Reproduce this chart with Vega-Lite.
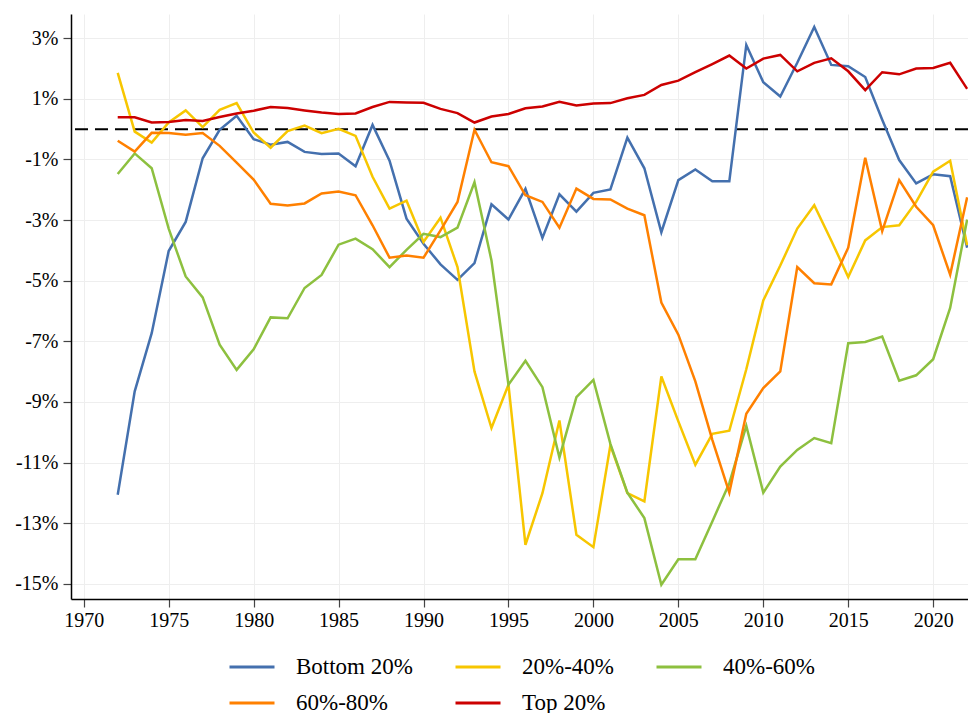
{
  "$schema": "https://vega.github.io/schema/vega-lite/v6.json",
  "width": 897,
  "height": 585,
  "autosize": {"type": "none"},
  "padding": {"left": 71, "top": 14, "right": 0, "bottom": 114},
  "background": "white",
  "config": {
    "view": {"stroke": null},
    "font": "Liberation Serif"
  },
  "layer": [
    {
      "data": {"values": [{"zero": 0}]},
      "mark": {"type": "rule", "color": "black", "strokeWidth": 2, "strokeDash": [13, 7]},
      "encoding": {"y": {"field": "zero", "type": "quantitative", "scale": {"domain": [-15.5, 3.8], "nice": false, "zero": false}}}
    },
    {
      "data": {"values": [
        {"year":1972,"group":"Bottom 20%","value":-12.06},{"year":1973,"group":"Bottom 20%","value":-8.65},{"year":1974,"group":"Bottom 20%","value":-6.73},{"year":1975,"group":"Bottom 20%","value":-4.02},{"year":1976,"group":"Bottom 20%","value":-3.06},{"year":1977,"group":"Bottom 20%","value":-0.96},{"year":1978,"group":"Bottom 20%","value":-0.02},{"year":1979,"group":"Bottom 20%","value":0.44},{"year":1980,"group":"Bottom 20%","value":-0.33},{"year":1981,"group":"Bottom 20%","value":-0.51},{"year":1982,"group":"Bottom 20%","value":-0.42},{"year":1983,"group":"Bottom 20%","value":-0.75},{"year":1984,"group":"Bottom 20%","value":-0.82},{"year":1985,"group":"Bottom 20%","value":-0.80},{"year":1986,"group":"Bottom 20%","value":-1.22},{"year":1987,"group":"Bottom 20%","value":0.14},{"year":1988,"group":"Bottom 20%","value":-1.04},{"year":1989,"group":"Bottom 20%","value":-2.95},{"year":1990,"group":"Bottom 20%","value":-3.78},{"year":1991,"group":"Bottom 20%","value":-4.46},{"year":1992,"group":"Bottom 20%","value":-4.97},{"year":1993,"group":"Bottom 20%","value":-4.42},{"year":1994,"group":"Bottom 20%","value":-2.48},{"year":1995,"group":"Bottom 20%","value":-2.98},{"year":1996,"group":"Bottom 20%","value":-1.97},{"year":1997,"group":"Bottom 20%","value":-3.59},{"year":1998,"group":"Bottom 20%","value":-2.15},{"year":1999,"group":"Bottom 20%","value":-2.72},{"year":2000,"group":"Bottom 20%","value":-2.10},{"year":2001,"group":"Bottom 20%","value":-1.99},{"year":2002,"group":"Bottom 20%","value":-0.28},{"year":2003,"group":"Bottom 20%","value":-1.29},{"year":2004,"group":"Bottom 20%","value":-3.40},{"year":2005,"group":"Bottom 20%","value":-1.68},{"year":2006,"group":"Bottom 20%","value":-1.33},{"year":2007,"group":"Bottom 20%","value":-1.72},{"year":2008,"group":"Bottom 20%","value":-1.72},{"year":2009,"group":"Bottom 20%","value":2.78},{"year":2010,"group":"Bottom 20%","value":1.55},{"year":2011,"group":"Bottom 20%","value":1.08},{"year":2012,"group":"Bottom 20%","value":2.19},{"year":2013,"group":"Bottom 20%","value":3.37},{"year":2014,"group":"Bottom 20%","value":2.12},{"year":2015,"group":"Bottom 20%","value":2.08},{"year":2016,"group":"Bottom 20%","value":1.72},{"year":2017,"group":"Bottom 20%","value":0.31},{"year":2018,"group":"Bottom 20%","value":-1.02},{"year":2019,"group":"Bottom 20%","value":-1.79},{"year":2020,"group":"Bottom 20%","value":-1.49},{"year":2021,"group":"Bottom 20%","value":-1.55},{"year":2022,"group":"Bottom 20%","value":-3.91},
        {"year":1972,"group":"20%-40%","value":1.86},{"year":1973,"group":"20%-40%","value":-0.08},{"year":1974,"group":"20%-40%","value":-0.44},{"year":1975,"group":"20%-40%","value":0.22},{"year":1976,"group":"20%-40%","value":0.62},{"year":1977,"group":"20%-40%","value":0.07},{"year":1978,"group":"20%-40%","value":0.64},{"year":1979,"group":"20%-40%","value":0.86},{"year":1980,"group":"20%-40%","value":-0.11},{"year":1981,"group":"20%-40%","value":-0.61},{"year":1982,"group":"20%-40%","value":-0.06},{"year":1983,"group":"20%-40%","value":0.12},{"year":1984,"group":"20%-40%","value":-0.13},{"year":1985,"group":"20%-40%","value":0.01},{"year":1986,"group":"20%-40%","value":-0.22},{"year":1987,"group":"20%-40%","value":-1.57},{"year":1988,"group":"20%-40%","value":-2.62},{"year":1989,"group":"20%-40%","value":-2.36},{"year":1990,"group":"20%-40%","value":-3.72},{"year":1991,"group":"20%-40%","value":-2.92},{"year":1992,"group":"20%-40%","value":-4.55},{"year":1993,"group":"20%-40%","value":-7.99},{"year":1994,"group":"20%-40%","value":-9.86},{"year":1995,"group":"20%-40%","value":-8.43},{"year":1996,"group":"20%-40%","value":-13.71},{"year":1997,"group":"20%-40%","value":-12.01},{"year":1998,"group":"20%-40%","value":-9.61},{"year":1999,"group":"20%-40%","value":-13.38},{"year":2000,"group":"20%-40%","value":-13.79},{"year":2001,"group":"20%-40%","value":-10.43},{"year":2002,"group":"20%-40%","value":-12.01},{"year":2003,"group":"20%-40%","value":-12.28},{"year":2004,"group":"20%-40%","value":-8.16},{"year":2005,"group":"20%-40%","value":-9.64},{"year":2006,"group":"20%-40%","value":-11.07},{"year":2007,"group":"20%-40%","value":-10.05},{"year":2008,"group":"20%-40%","value":-9.95},{"year":2009,"group":"20%-40%","value":-7.92},{"year":2010,"group":"20%-40%","value":-5.65},{"year":2011,"group":"20%-40%","value":-4.50},{"year":2012,"group":"20%-40%","value":-3.28},{"year":2013,"group":"20%-40%","value":-2.51},{"year":2014,"group":"20%-40%","value":-3.67},{"year":2015,"group":"20%-40%","value":-4.88},{"year":2016,"group":"20%-40%","value":-3.67},{"year":2017,"group":"20%-40%","value":-3.23},{"year":2018,"group":"20%-40%","value":-3.17},{"year":2019,"group":"20%-40%","value":-2.40},{"year":2020,"group":"20%-40%","value":-1.40},{"year":2021,"group":"20%-40%","value":-1.04},{"year":2022,"group":"20%-40%","value":-3.83},
        {"year":1972,"group":"40%-60%","value":-1.48},{"year":1973,"group":"40%-60%","value":-0.80},{"year":1974,"group":"40%-60%","value":-1.29},{"year":1975,"group":"40%-60%","value":-3.28},{"year":1976,"group":"40%-60%","value":-4.86},{"year":1977,"group":"40%-60%","value":-5.55},{"year":1978,"group":"40%-60%","value":-7.11},{"year":1979,"group":"40%-60%","value":-7.94},{"year":1980,"group":"40%-60%","value":-7.26},{"year":1981,"group":"40%-60%","value":-6.21},{"year":1982,"group":"40%-60%","value":-6.24},{"year":1983,"group":"40%-60%","value":-5.24},{"year":1984,"group":"40%-60%","value":-4.81},{"year":1985,"group":"40%-60%","value":-3.81},{"year":1986,"group":"40%-60%","value":-3.61},{"year":1987,"group":"40%-60%","value":-3.96},{"year":1988,"group":"40%-60%","value":-4.55},{"year":1989,"group":"40%-60%","value":-3.98},{"year":1990,"group":"40%-60%","value":-3.45},{"year":1991,"group":"40%-60%","value":-3.56},{"year":1992,"group":"40%-60%","value":-3.25},{"year":1993,"group":"40%-60%","value":-1.75},{"year":1994,"group":"40%-60%","value":-4.33},{"year":1995,"group":"40%-60%","value":-8.43},{"year":1996,"group":"40%-60%","value":-7.64},{"year":1997,"group":"40%-60%","value":-8.51},{"year":1998,"group":"40%-60%","value":-10.83},{"year":1999,"group":"40%-60%","value":-8.84},{"year":2000,"group":"40%-60%","value":-8.27},{"year":2001,"group":"40%-60%","value":-10.38},{"year":2002,"group":"40%-60%","value":-11.99},{"year":2003,"group":"40%-60%","value":-12.83},{"year":2004,"group":"40%-60%","value":-15.03},{"year":2005,"group":"40%-60%","value":-14.19},{"year":2006,"group":"40%-60%","value":-14.19},{"year":2007,"group":"40%-60%","value":-12.94},{"year":2008,"group":"40%-60%","value":-11.68},{"year":2009,"group":"40%-60%","value":-9.79},{"year":2010,"group":"40%-60%","value":-11.99},{"year":2011,"group":"40%-60%","value":-11.13},{"year":2012,"group":"40%-60%","value":-10.58},{"year":2013,"group":"40%-60%","value":-10.19},{"year":2014,"group":"40%-60%","value":-10.36},{"year":2015,"group":"40%-60%","value":-7.06},{"year":2016,"group":"40%-60%","value":-7.02},{"year":2017,"group":"40%-60%","value":-6.84},{"year":2018,"group":"40%-60%","value":-8.30},{"year":2019,"group":"40%-60%","value":-8.12},{"year":2020,"group":"40%-60%","value":-7.59},{"year":2021,"group":"40%-60%","value":-5.90},{"year":2022,"group":"40%-60%","value":-2.98},
        {"year":1972,"group":"60%-80%","value":-0.38},{"year":1973,"group":"60%-80%","value":-0.74},{"year":1974,"group":"60%-80%","value":-0.12},{"year":1975,"group":"60%-80%","value":-0.13},{"year":1976,"group":"60%-80%","value":-0.18},{"year":1977,"group":"60%-80%","value":-0.13},{"year":1978,"group":"60%-80%","value":-0.55},{"year":1979,"group":"60%-80%","value":-1.10},{"year":1980,"group":"60%-80%","value":-1.66},{"year":1981,"group":"60%-80%","value":-2.46},{"year":1982,"group":"60%-80%","value":-2.52},{"year":1983,"group":"60%-80%","value":-2.45},{"year":1984,"group":"60%-80%","value":-2.12},{"year":1985,"group":"60%-80%","value":-2.06},{"year":1986,"group":"60%-80%","value":-2.18},{"year":1987,"group":"60%-80%","value":-3.17},{"year":1988,"group":"60%-80%","value":-4.24},{"year":1989,"group":"60%-80%","value":-4.17},{"year":1990,"group":"60%-80%","value":-4.24},{"year":1991,"group":"60%-80%","value":-3.34},{"year":1992,"group":"60%-80%","value":-2.40},{"year":1993,"group":"60%-80%","value":-0.02},{"year":1994,"group":"60%-80%","value":-1.09},{"year":1995,"group":"60%-80%","value":-1.22},{"year":1996,"group":"60%-80%","value":-2.18},{"year":1997,"group":"60%-80%","value":-2.40},{"year":1998,"group":"60%-80%","value":-3.25},{"year":1999,"group":"60%-80%","value":-1.96},{"year":2000,"group":"60%-80%","value":-2.30},{"year":2001,"group":"60%-80%","value":-2.32},{"year":2002,"group":"60%-80%","value":-2.62},{"year":2003,"group":"60%-80%","value":-2.84},{"year":2004,"group":"60%-80%","value":-5.72},{"year":2005,"group":"60%-80%","value":-6.78},{"year":2006,"group":"60%-80%","value":-8.32},{"year":2007,"group":"60%-80%","value":-10.25},{"year":2008,"group":"60%-80%","value":-11.99},{"year":2009,"group":"60%-80%","value":-9.39},{"year":2010,"group":"60%-80%","value":-8.54},{"year":2011,"group":"60%-80%","value":-7.99},{"year":2012,"group":"60%-80%","value":-4.55},{"year":2013,"group":"60%-80%","value":-5.08},{"year":2014,"group":"60%-80%","value":-5.12},{"year":2015,"group":"60%-80%","value":-3.91},{"year":2016,"group":"60%-80%","value":-0.94},{"year":2017,"group":"60%-80%","value":-3.36},{"year":2018,"group":"60%-80%","value":-1.68},{"year":2019,"group":"60%-80%","value":-2.56},{"year":2020,"group":"60%-80%","value":-3.17},{"year":2021,"group":"60%-80%","value":-4.80},{"year":2022,"group":"60%-80%","value":-2.25},
        {"year":1972,"group":"Top 20%","value":0.39},{"year":1973,"group":"Top 20%","value":0.39},{"year":1974,"group":"Top 20%","value":0.22},{"year":1975,"group":"Top 20%","value":0.24},{"year":1976,"group":"Top 20%","value":0.30},{"year":1977,"group":"Top 20%","value":0.27},{"year":1978,"group":"Top 20%","value":0.40},{"year":1979,"group":"Top 20%","value":0.52},{"year":1980,"group":"Top 20%","value":0.61},{"year":1981,"group":"Top 20%","value":0.73},{"year":1982,"group":"Top 20%","value":0.70},{"year":1983,"group":"Top 20%","value":0.62},{"year":1984,"group":"Top 20%","value":0.55},{"year":1985,"group":"Top 20%","value":0.50},{"year":1986,"group":"Top 20%","value":0.52},{"year":1987,"group":"Top 20%","value":0.73},{"year":1988,"group":"Top 20%","value":0.90},{"year":1989,"group":"Top 20%","value":0.88},{"year":1990,"group":"Top 20%","value":0.87},{"year":1991,"group":"Top 20%","value":0.67},{"year":1992,"group":"Top 20%","value":0.53},{"year":1993,"group":"Top 20%","value":0.22},{"year":1994,"group":"Top 20%","value":0.42},{"year":1995,"group":"Top 20%","value":0.50},{"year":1996,"group":"Top 20%","value":0.69},{"year":1997,"group":"Top 20%","value":0.75},{"year":1998,"group":"Top 20%","value":0.90},{"year":1999,"group":"Top 20%","value":0.78},{"year":2000,"group":"Top 20%","value":0.85},{"year":2001,"group":"Top 20%","value":0.86},{"year":2002,"group":"Top 20%","value":1.02},{"year":2003,"group":"Top 20%","value":1.13},{"year":2004,"group":"Top 20%","value":1.46},{"year":2005,"group":"Top 20%","value":1.60},{"year":2006,"group":"Top 20%","value":1.88},{"year":2007,"group":"Top 20%","value":2.15},{"year":2008,"group":"Top 20%","value":2.43},{"year":2009,"group":"Top 20%","value":2.00},{"year":2010,"group":"Top 20%","value":2.33},{"year":2011,"group":"Top 20%","value":2.45},{"year":2012,"group":"Top 20%","value":1.91},{"year":2013,"group":"Top 20%","value":2.19},{"year":2014,"group":"Top 20%","value":2.34},{"year":2015,"group":"Top 20%","value":1.91},{"year":2016,"group":"Top 20%","value":1.29},{"year":2017,"group":"Top 20%","value":1.88},{"year":2018,"group":"Top 20%","value":1.81},{"year":2019,"group":"Top 20%","value":2.00},{"year":2020,"group":"Top 20%","value":2.02},{"year":2021,"group":"Top 20%","value":2.19},{"year":2022,"group":"Top 20%","value":1.33}
      ]},
      "mark": {"type": "line", "strokeWidth": 2.5, "clip": true},
      "encoding": {
        "x": {
          "field": "year", "type": "quantitative",
          "scale": {"domain": [1969.25, 2022.05], "nice": false, "zero": false},
          "axis": {
            "title": null, "values": [1970, 1975, 1980, 1985, 1990, 1995, 2000, 2005, 2010, 2015, 2020],
            "format": "d", "labelFont": "Liberation Serif", "labelFontSize": 20, "labelColor": "black",
            "tickColor": "#444444", "tickSize": 8, "tickWidth": 1.2, "domainColor": "black", "domainWidth": 1.5,
            "grid": true, "gridColor": "#eeeeee", "gridWidth": 1, "labelPadding": 3
          }
        },
        "y": {
          "field": "value", "type": "quantitative",
          "scale": {"domain": [-15.5, 3.8], "nice": false, "zero": false},
          "axis": {
            "title": null, "values": [-15, -13, -11, -9, -7, -5, -3, -1, 1, 3],
            "labelExpr": "datum.value + '%'", "labelFont": "Liberation Serif", "labelFontSize": 20, "labelColor": "black",
            "tickColor": "#444444", "tickSize": 8, "tickWidth": 1.2, "domainColor": "black", "domainWidth": 1.5,
            "grid": true, "gridColor": "#eeeeee", "gridWidth": 1, "labelPadding": 5
          }
        },
        "color": {
          "field": "group", "type": "nominal",
          "scale": {
            "domain": ["Bottom 20%", "20%-40%", "40%-60%", "60%-80%", "Top 20%"],
            "range": ["#4470AE", "#F7C600", "#8DC03F", "#FF8000", "#CC0000"]
          },
          "legend": {
            "title": null, "orient": "none", "direction": "horizontal", "legendX": 157, "legendY": 629, "columns": 3,
            "symbolType": "stroke", "symbolSize": 2025, "symbolStrokeWidth": 3,
            "labelFont": "Liberation Serif", "labelFontSize": 23, "labelColor": "black",
            "labelOffset": 20, "columnPadding": 36, "rowPadding": 0, "labelLimit": 300
          }
        }
      }
    }
  ]
}
